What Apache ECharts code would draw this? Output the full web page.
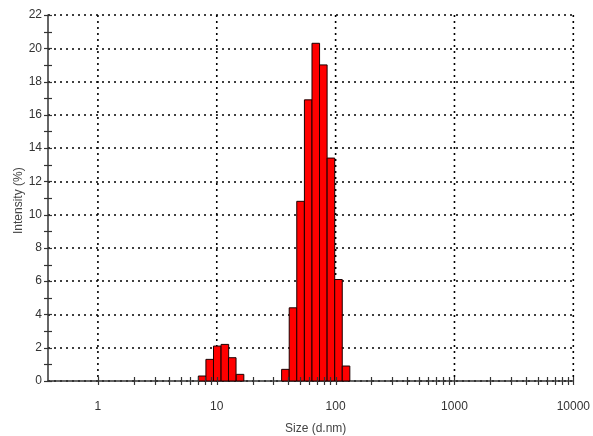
<!DOCTYPE html>
<html>
<head>
<meta charset="utf-8">
<script src="https://cdn.jsdelivr.net/npm/echarts@6/dist/echarts.min.js"></script>
<style>
html,body{margin:0;padding:0;background:#fff;}
#chart{width:593px;height:436px;}
</style>
</head>
<body>
<div id="chart"></div>
<script>
// Bin centre sizes (d.nm) and intensities (%)
var sizes = [7.53, 8.72, 10.1, 11.7, 13.5, 15.7, 37.8, 43.8, 50.7, 58.8, 68.1, 78.8, 91.3, 105.7, 122.4];
var intensity = [0.3, 1.3, 2.1, 2.2, 1.4, 0.4, 0.7, 4.4, 10.8, 16.9, 20.3, 19.0, 13.4, 6.1, 0.9];
var xTickLabels = [1, 10, 100, 1000, 10000];
var yTickLabels = [0, 2, 4, 6, 8, 10, 12, 14, 16, 18, 20, 22];
var xTitle = 'Size (d.nm)';
var yTitle = 'Intensity (%)';

var BIN_STEP = Math.log10(25000) / 69; // log-width of one size class
var X_MIN = -0.42, X_MAX = 4;

var barData = sizes.map(function (s, i) { return [Math.log10(s), intensity[i]]; });

var xMinorTicks = [];
for (var d = 0; d < 4; d++) {
  for (var m = 1; m <= 9; m++) xMinorTicks.push(Math.log10(m * Math.pow(10, d)));
}
xMinorTicks.push(4);
var yTicks = [];
for (var k = 0; k <= 22; k++) yTicks.push(k);

var DOT = [2, 4];
var FONT = 'Liberation Sans, Arial, sans-serif';

var chart = echarts.init(document.getElementById('chart'), null, { renderer: 'canvas' });
chart.setOption({
  animation: false,
  backgroundColor: '#fff',
  grid: { left: 48, right: 18, top: 15, bottom: 55, containLabel: false },
  xAxis: {
    type: 'value', min: X_MIN, max: X_MAX,
    axisLine: { show: true, onZero: false, lineStyle: { color: '#333', width: 1.5 } },
    axisTick: { show: false },
    splitLine: { show: false },
    axisLabel: {
      show: true, margin: 20, fontSize: 12, color: '#333', fontFamily: FONT,
      customValues: xTickLabels.map(function (v) { return Math.log10(v); }),
      formatter: function (v) { return String(Math.round(Math.pow(10, v))); }
    }
  },
  yAxis: {
    type: 'value', min: 0, max: 22, interval: 2,
    axisLine: { show: true, onZero: false, lineStyle: { color: '#333', width: 1.5 } },
    axisTick: { show: false },
    splitLine: { show: true, lineStyle: { color: '#000', width: 1.6, type: DOT } },
    axisLabel: { show: true, margin: 6, fontSize: 12, color: '#333', fontFamily: FONT }
  },
  graphic: [
    { type: 'text', left: 285, top: 423, style: { text: xTitle, fill: '#444', font: '12px ' + FONT } },
    { type: 'text', x: 13, y: 234, rotation: Math.PI / 2, style: { text: yTitle, fill: '#444', font: '12px ' + FONT } }
  ],
  series: [
    {
      type: 'custom', silent: true, clip: false, z: 1,
      data: [[0, 0]],
      renderItem: function (params, api) {
        var children = [];
        var yTop = api.coord([0, 22])[1], yBot = api.coord([0, 0])[1];
        xTickLabels.forEach(function (v) {
          var x = api.coord([Math.log10(v), 0])[0];
          children.push({ type: 'line', shape: { x1: x, y1: yTop, x2: x, y2: yBot },
            style: { stroke: '#000', lineWidth: 1.6, lineDash: DOT } });
        });
        return { type: 'group', children: children };
      }
    },
    {
      type: 'custom', name: 'Intensity', z: 3,
      data: barData,
      renderItem: function (params, api) {
        var lx = api.value(0);
        var p0 = api.coord([lx - BIN_STEP / 2, 0]);
        var p1 = api.coord([lx + BIN_STEP / 2, api.value(1)]);
        return {
          type: 'rect',
          shape: { x: p0[0], y: p1[1], width: p1[0] - p0[0], height: p0[1] - p1[1] },
          style: { fill: '#ff0000', stroke: '#1a0000', lineWidth: 1 }
        };
      }
    },
    {
      type: 'custom', silent: true, clip: false, z: 5,
      data: [[0, 0]],
      renderItem: function (params, api) {
        var children = [];
        var y0 = api.coord([X_MIN, 0])[1], x0 = api.coord([X_MIN, 0])[0];
        xMinorTicks.forEach(function (v) {
          var x = Math.round(api.coord([v, 0])[0]) + 0.5;
          children.push({ type: 'line', shape: { x1: x, y1: y0 - 4, x2: x, y2: y0 + 4 },
            style: { stroke: '#333', lineWidth: 1.2 } });
        });
        yTicks.forEach(function (v) {
          var y = Math.round(api.coord([X_MIN, v])[1]) + 0.5;
          children.push({ type: 'line', shape: { x1: x0 - 4, y1: y, x2: x0 + 4, y2: y },
            style: { stroke: '#333', lineWidth: 1.2 } });
        });
        return { type: 'group', children: children };
      }
    }
  ]
});
</script>
</body>
</html>
